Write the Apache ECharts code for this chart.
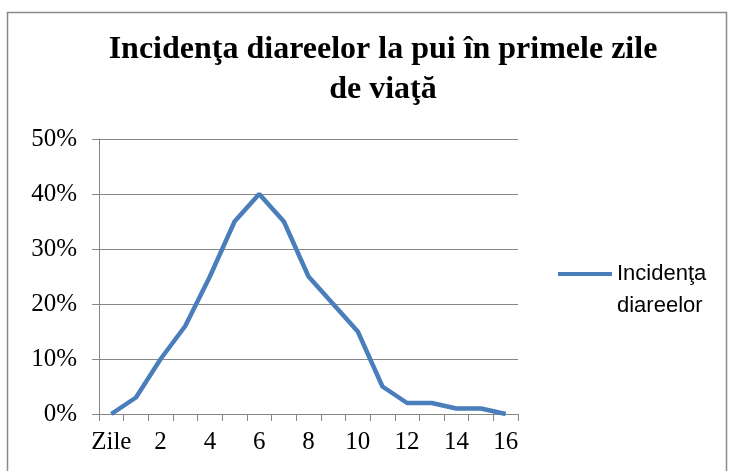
<!DOCTYPE html>
<html>
<head>
<meta charset="utf-8">
<script src="https://cdn.jsdelivr.net/npm/echarts@6/dist/echarts.min.js"></script>
<style>html,body{margin:0;padding:0;background:#fff;}#c{width:733px;height:471px;}</style>
</head>
<body>
<div id="c"></div>
<script>
const categories = ["Zile","1","2","3","4","5","6","7","8","9","10","11","12","13","14","15","16"];
const values = [0,3,10,16,25,35,40,35,25,20,15,5,2,2,1,1,0];
const yTicks = [0,10,20,30,40,50];
const seriesName = "Incidenţa diareelor";
const titleText = "Incidenţa diareelor la pui în primele zile\nde viaţă";

const chart = echarts.init(document.getElementById('c'), null, {renderer:'canvas'});
chart.setOption({
  animation:false,
  backgroundColor:'#fff',
  graphic:[{type:'rect',shape:{x:7.5,y:12.5,width:719,height:480},style:{fill:'none',stroke:'#8a8a8a',lineWidth:1.5},silent:true}],
  title:{text:titleText,left:378,top:25,textAlign:'center',
    textStyle:{fontFamily:'Liberation Serif',fontWeight:'bold',fontSize:32,lineHeight:40,color:'#000'}},
  legend:{orient:'vertical',left:558,top:231,padding:0,itemWidth:54,itemHeight:4,itemGap:0,
    formatter:function(){return '{e| }\n{t|Incidenţa}\n{t|diareelor}';},
    textStyle:{rich:{
      e:{fontSize:22,lineHeight:32,fontFamily:'Liberation Sans'},
      t:{fontSize:22,lineHeight:32,fontFamily:'Liberation Sans',color:'#000'}}},
    data:[{name:seriesName,icon:'path://M0,0L54,0L54,4L0,4Z'}]},
  grid:{left:99,right:215,top:139,bottom:57,containLabel:false},
  xAxis:{type:'category',data:categories,boundaryGap:true,
    axisLine:{lineStyle:{color:'#868686',width:1}},
    axisTick:{show:true,interval:0,length:7,lineStyle:{color:'#868686'}},
    axisLabel:{interval:1,margin:16,fontFamily:'Liberation Serif',fontSize:25,color:'#000'}},
  yAxis:{type:'value',min:yTicks[0],max:yTicks[yTicks.length-1],interval:10,
    axisLine:{show:true,lineStyle:{color:'#868686',width:1}},
    axisTick:{show:true,length:7,lineStyle:{color:'#868686'}},
    splitLine:{lineStyle:{color:'#868686',width:1}},
    axisLabel:{formatter:'{value}%',margin:22,fontFamily:'Liberation Serif',fontSize:25,color:'#000'}},
  series:[{name:seriesName,type:'line',data:values,symbol:'none',
    lineStyle:{color:'#4a7ebb',width:4.5},itemStyle:{color:'#4a7ebb'}}]
});
</script>
</body>
</html>
